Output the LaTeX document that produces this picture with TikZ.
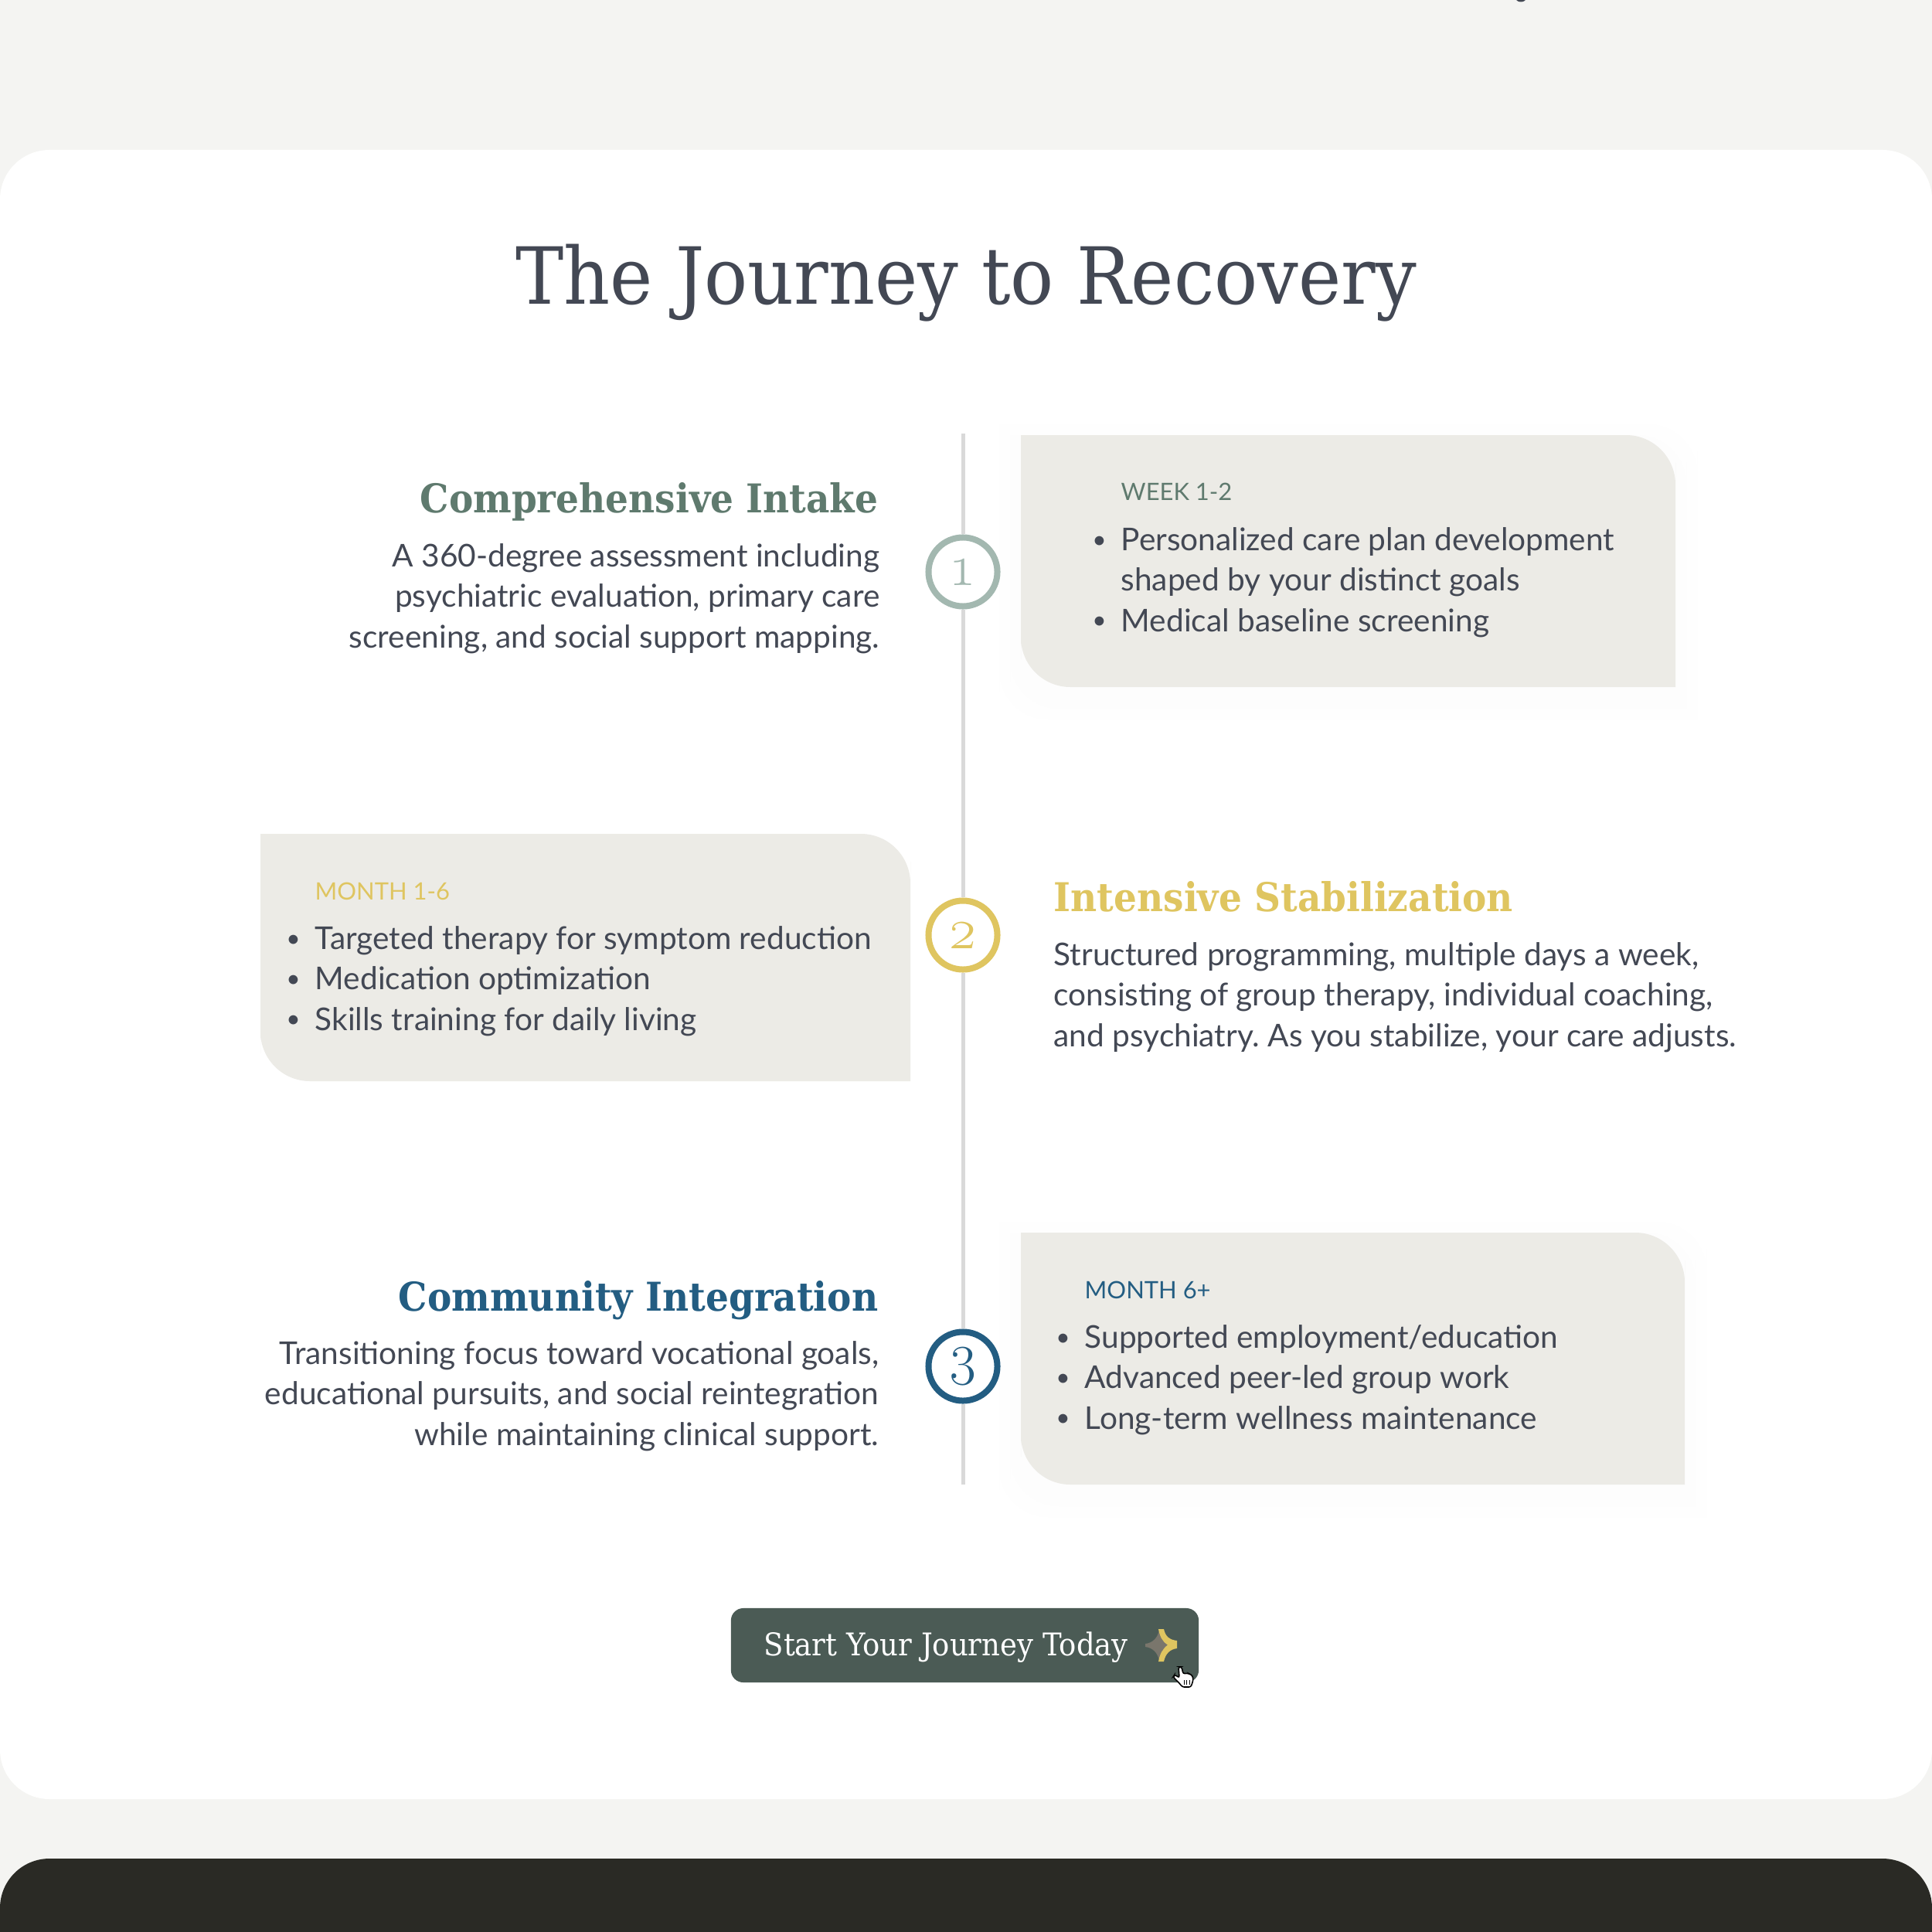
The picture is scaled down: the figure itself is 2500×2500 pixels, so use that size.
\documentclass[tikz,border=0pt]{standalone}
\usepackage{fontspec}
\usepackage{xcolor}
\setmainfont{Lato}
\newfontfamily\headfont[FakeStretch=0.915]{DejaVu Serif}
\newfontfamily\numfont[Numbers=OldStyle]{Latin Modern Roman}
\definecolor{pagebg}{HTML}{F4F4F2}
\definecolor{cardbg}{HTML}{ECEBE6}
\definecolor{footbg}{HTML}{2A2A25}
\definecolor{inktext}{HTML}{434854}
\definecolor{sage}{HTML}{5F7A6E}
\definecolor{sagelight}{HTML}{A3B8B0}
\definecolor{gold}{HTML}{DFC560}
\definecolor{teal}{HTML}{235D82}
\definecolor{btnbg}{HTML}{4B5B55}
\definecolor{stargray}{HTML}{7A766C}
\frenchspacing
\newcommand{\itemdot}{\llap{\raisebox{0.35mm}{\fontsize{9}{9}\selectfont\textbullet}\hspace{1.9mm}}}
% sizes are in px of the 2500 wide picture, 1px = 0.2845pt
\newcommand{\cardpath}[4]{(#1,#2) [rounded corners=6.4mm] -- (#3,#2) -- (#3,#2+100) [sharp corners] -- (#3,#4) -- (#1+100,#4) [rounded corners=6.4mm] -- (#1,#4) -- (#1,#4-100) [sharp corners] -- cycle}
\begin{document}
\begin{tikzpicture}[
  x=0.01cm, y=-0.01cm,
  stepnum/.style={circle, draw, fill=white, line width=0.8mm, minimum size=8.9mm, inner sep=0pt, font=\fontsize{21}{21}\selectfont\numfont},
  title/.style={font=\fontsize{29}{32}\selectfont\headfont, text=inktext, inner sep=0pt},
  phase/.style={font=\fontsize{14.6}{17}\selectfont\headfont\bfseries, inner sep=0pt},
  bodyr/.style={align=right, anchor=base east, font=\fontsize{11.55}{14.8}\selectfont, text=inktext, inner sep=0pt},
  bodyl/.style={align=left, anchor=base west, font=\fontsize{11.55}{14.8}\selectfont, text=inktext, inner sep=0pt},
  period/.style={anchor=base west, font=\fontsize{8.8}{10}\selectfont, inner sep=0pt},
  spine/.style={line width=0.5mm, draw={rgb,255:red,217;green,217;blue,217}},
]
\clip (0,0) rectangle (2500,2500);
\fill[pagebg] (0,0) rectangle (2500,2500);
\fill[inktext] (1968,-3) ellipse (7 and 5.5);
% Panels
\fill[white, rounded corners=6.4mm] (0,194) rectangle (2500,2328);
\fill[footbg, rounded corners=6.4mm] (0,2405) rectangle (2500,2700);
% Card shadows
\foreach \s/\g in {28/0.2,21/0.4,14/0.6,7/0.8} {
  \fill[black!\g] \cardpath{1321-\s}{563+14-\s}{2168+\s}{889+14+\s};
  \fill[black!\g] \cardpath{1321-\s}{1595+14-\s}{2180+\s}{1921+14+\s};
}
% Spine and steps
\coordinate (spinetop) at (1246,561);
\coordinate (spinebottom) at (1246,1921);
\node[stepnum, draw=sagelight, text=sagelight] (one) at (1246,740) {1};
\node[stepnum, draw=gold, text=gold] (two) at (1246,1210) {2};
\node[stepnum, draw=teal, text=teal] (three) at (1246,1768) {3};
\draw[spine] (spinetop) -- (one);
\draw[spine] (one) -- (two);
\draw[spine] (two) -- (three);
\draw[spine] (three) -- (spinebottom);
% Cards
\fill[cardbg] \cardpath{1321}{563}{2168}{889};
\fill[cardbg] \cardpath{337}{1079}{1178}{1399};
\fill[cardbg] \cardpath{1321}{1595}{2180}{1921};
% Title
\node[title, anchor=base] (heading) at (1250,393) {The Journey to Recovery};
% Step 1
\node[phase, text=sage, anchor=base east] (intake) at (1137,663) {Comprehensive Intake};
\node[bodyr] (intaketext) at (1139,838) {A 360-degree assessment including\\psychiatric evaluation, primary care\\screening, and social support mapping.};
\node[period, text=sage] (weeks) at (1450,647) {WEEK 1-2};
\node[bodyl] (intakelist) at (1450,817) {\itemdot Personalized care plan development\\shaped by your distinct goals\\\itemdot Medical baseline screening};
% Step 2
\node[phase, text=gold, anchor=base west] (stabilize) at (1363,1179) {Intensive Stabilization};
\node[bodyl] (stabilizetext) at (1363,1354) {Structured programming, multiple days a week,\\consisting of group therapy, individual coaching,\\and psychiatry. As you stabilize, your care adjusts.};
\node[period, text=gold] (months) at (407,1164) {MONTH 1-6};
\node[bodyl] (stabilizelist) at (407,1333) {\itemdot Targeted therapy for symptom reduction\\\itemdot Medication optimization\\\itemdot Skills training for daily living};
% Step 3
\node[phase, text=teal, anchor=base east] (community) at (1137,1696) {Community Integration};
\node[bodyr] (communitytext) at (1138,1870) {Transitioning focus toward vocational goals,\\educational pursuits, and social reintegration\\while maintaining clinical support.};
\node[period, text=teal] (later) at (1403,1680) {MONTH 6+};
\node[bodyl] (communitylist) at (1403,1849) {\itemdot Supported employment/education\\\itemdot Advanced peer-led group work\\\itemdot Long-term wellness maintenance};
% Button
\node[fill=btnbg, rounded corners=1.6mm, minimum width=60.5mm, minimum height=9.6mm, inner sep=0pt] (button) at (1248.5,2129) {};
\node[anchor=base west, inner sep=0pt, text=white, font=\fontsize{11.5}{13}\selectfont\headfont] (buttontext) at (988,2142) {Start Your Journey Today};
\fill[stargray] (1482,2127) .. controls (1491,2126) and (1498,2120) .. (1500,2109) -- (1500,2149) .. controls (1498,2138) and (1491,2132) .. (1482,2131) -- cycle;
\fill[stargray] (1500,2109) .. controls (1502,2118) and (1506,2124) .. (1512,2129) .. controls (1506,2134) and (1502,2140) .. (1500,2149) -- cycle;
\fill[gold] (1499,2108) -- (1506,2108) .. controls (1508,2118) and (1514,2122) .. (1523,2123) -- (1523,2133) .. controls (1514,2134) and (1508,2140) .. (1506,2150) -- (1499,2150) .. controls (1501,2140) and (1504,2134) .. (1511,2128.5) .. controls (1504,2124) and (1501,2118) .. (1499,2108) -- cycle;
% Pointer
\draw[fill=white, draw=black, line width=0.16mm, rounded corners=0.25mm] (1525,2157) -- (1529,2157) -- (1531,2166) -- (1535,2165) -- (1539,2166) -- (1543,2168) -- (1544,2174) -- (1541,2183) -- (1530,2183) -- (1526,2178) -- (1518,2170) -- (1520,2167) -- (1526,2171) -- cycle;
\foreach \p in {1532,1535.5,1539} \draw[black, line width=0.1mm] (\p,2174) -- (\p,2180);
\end{tikzpicture}
\end{document}
